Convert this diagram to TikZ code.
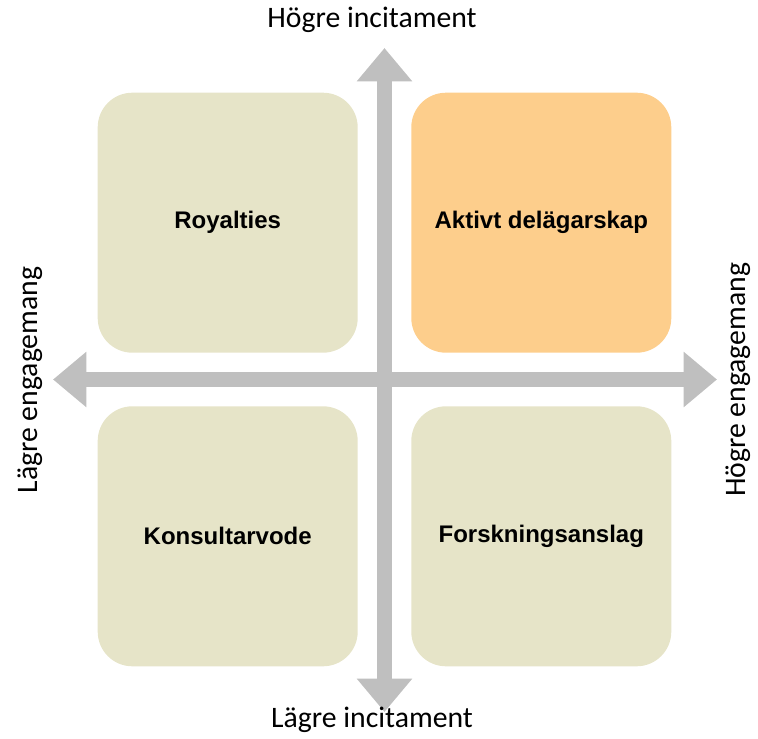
\documentclass[tikz,border=0pt]{standalone}
\usepackage{fontspec}
\setmainfont{Carlito}
\newfontfamily\labelfont{Liberation Sans}
\usetikzlibrary{arrows.meta,positioning}
\definecolor{quadbeige}{RGB}{230,228,200}
\definecolor{quadorange}{RGB}{253,206,140}
\definecolor{axisgray}{RGB}{191,191,191}
\tikzset{
  quad/.style={rounded corners=26pt, minimum width=195pt, minimum height=195pt,
    fill=quadbeige, align=center, font=\labelfont\bfseries\fontsize{18}{21}\selectfont},
  hot/.style={quad, fill=quadorange},
  axis/.style={draw=axisgray, line width=11pt,
    {Triangle[width=40pt, length=25pt]}-{Triangle[width=40pt, length=25pt]}},
  axislabel/.style={font=\fontsize{22.3}{26}\selectfont, inner sep=0pt},
}
\begin{document}
\begin{tikzpicture}[x=0.75pt, y=-0.75pt]
  \useasboundingbox (0,0) rectangle (758,739);
  \coordinate (c) at (384.5,379.5);

  % Quadrants
  \node[quad, above left=19.9pt and 19.9pt of c] (royal) {Royalties};
  \node[hot, above right=19.9pt and 19.9pt of c] (active) {Aktivt delägarskap};
  \node[quad, below left=19.9pt and 19.9pt of c] (consult) {Konsultarvode};
  \node[quad, below right=19.9pt and 19.9pt of c] (grant) {Forskningsanslag};

  % Axes
  \coordinate (up) at (384.5,48);
  \coordinate (down) at (384.5,712);
  \coordinate (left) at (53,379.5);
  \coordinate (right) at (717,379.5);
  \draw[axis] (down) -- (up);
  \draw[axis] (left) -- (right);

  % Labels
  \node[axislabel] (hi) at (372,20) {Högre incitament};
  \node[axislabel] (li) at (372,720) {Lägre incitament};
  \node[axislabel, rotate=90] (le) at (30,380) {Lägre engagemang};
  \node[axislabel, rotate=90] (he) at (738,380) {Högre engagemang};
\end{tikzpicture}
\end{document}
